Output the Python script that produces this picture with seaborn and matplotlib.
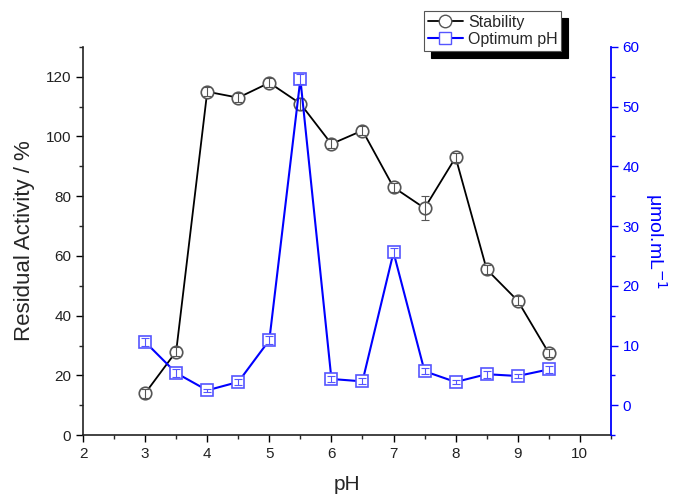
import numpy as np
import pandas as pd
import matplotlib
matplotlib.use("Agg")
import matplotlib.pyplot as plt
import seaborn as sns
from matplotlib.lines import Line2D

# Data
ph = [3, 3.5, 4, 4.5, 5, 5.5, 6, 6.5, 7, 7.5, 8, 8.5, 9, 9.5]
stability = [14, 28, 115, 113, 118, 111, 97.5, 102, 83, 76, 93, 55.5, 45, 27.5]
stability_err = [1.5, 1.5, 1.5, 1.5, 1.5, 2, 1.5, 1.5, 1.5, 4, 1.5, 1.5, 1.5, 1.5]
optimum = [10.6, 5.4, 2.5, 3.9, 10.9, 54.6, 4.4, 4.0, 25.6, 5.7, 3.9, 5.2, 4.9, 6.0]
optimum_err = [0.7, 0.6, 0.3, 0.5, 0.7, 0.8, 0.5, 0.5, 0.7, 0.5, 0.3, 0.6, 0.3, 0.6]

sns.set_style("ticks")
plt.rcParams['font.family'] = ['Liberation Sans', 'DejaVu Sans']

fig = plt.figure(figsize=(6.75, 4.99), dpi=100)
ax = fig.add_axes([0.123, 0.128, 0.782, 0.778])
ax2 = ax.twinx()

blue = '#0000ff'

df = pd.DataFrame({'pH': ph, 'Stability': stability, 'Optimum': optimum})

# Stability (left axis)
sns.lineplot(data=df, x='pH', y='Stability', ax=ax, color='black', lw=1.3,
             marker='o', markersize=9, markerfacecolor='white',
             markeredgecolor='#555555', markeredgewidth=1.2, zorder=3)
ax.errorbar(ph, stability, yerr=stability_err, fmt='none', ecolor='#555555',
            elinewidth=0.8, capsize=3, capthick=0.8, zorder=4)

# Optimum pH (right axis)
sns.lineplot(data=df, x='pH', y='Optimum', ax=ax2, color=blue, lw=1.5,
             marker='s', markersize=8, markerfacecolor='white',
             markeredgecolor='#5555ff', markeredgewidth=1.2, zorder=3)
ax2.errorbar(ph, optimum, yerr=optimum_err, fmt='none', ecolor='#5555ff',
             elinewidth=0.8, capsize=3, capthick=0.8, zorder=4)

# Axes limits / ticks
ax.set_xlim(2, 10.5)
ax.set_ylim(0, 130)
ax2.set_ylim(-5, 60)
ax.set_xticks(range(2, 11))
ax.set_xticks(np.arange(2, 10.6, 0.5), minor=True)
ax.set_yticks(range(0, 121, 20))
ax.set_yticks(range(0, 131, 10), minor=True)
ax2.set_yticks(range(0, 61, 10))
ax2.set_yticks(range(-5, 61, 5), minor=True)

ax.tick_params(axis='both', which='major', length=5, width=1, labelsize=11, colors='black',
               labelcolor='#222222', direction='out')
ax.tick_params(axis='both', which='minor', length=3, width=1, direction='out')
ax2.tick_params(axis='y', which='major', length=5, width=1, labelsize=11, colors=blue, direction='out')
ax2.tick_params(axis='y', which='minor', length=3, width=1, colors=blue, direction='out')

ax.spines['top'].set_visible(False)
ax2.spines['top'].set_visible(False)
ax.spines['right'].set_visible(False)
ax2.spines['left'].set_visible(False)
ax2.spines['bottom'].set_visible(False)
ax2.spines['right'].set_color(blue)
ax2.spines['right'].set_linewidth(1.3)
ax.spines['left'].set_linewidth(1.2)
ax.spines['bottom'].set_linewidth(1.2)
ax.spines['left'].set_color('#222222')
ax.spines['bottom'].set_color('#222222')

ax.set_xlabel('pH', fontsize=15, labelpad=10)
ax.set_ylabel('Residual Activity / %', fontsize=16, labelpad=8)
ax2.set_ylabel('μmol.mL$^{-1}$', fontsize=14, color=blue, rotation=270,
               va='center', ha='center')
ax2.yaxis.set_label_coords(1.085, 0.5)

# Legend
handles = [
    Line2D([], [], color='black', lw=1.3, marker='o', markersize=9,
           markerfacecolor='white', markeredgecolor='#555555'),
    Line2D([], [], color=blue, lw=1.5, marker='s', markersize=8,
           markerfacecolor='white', markeredgecolor='#5555ff'),
]
leg = fig.legend(handles, ['Stability', 'Optimum pH'], loc='upper left',
                 bbox_to_anchor=(0.628, 0.978), fontsize=11.5, frameon=True,
                 fancybox=False, shadow={'color': 'black', 'alpha': 1, 'ox': 5, 'oy': -5},
                 handlelength=2.2, handletextpad=0.3, borderpad=0.25, labelspacing=0.1,
                 borderaxespad=0)
leg.get_frame().set_edgecolor('#555555')
leg.get_frame().set_linewidth(0.8)
leg.get_frame().set_facecolor('white')
leg.get_frame().set_alpha(1)

fig.savefig('out.png', dpi=100)
